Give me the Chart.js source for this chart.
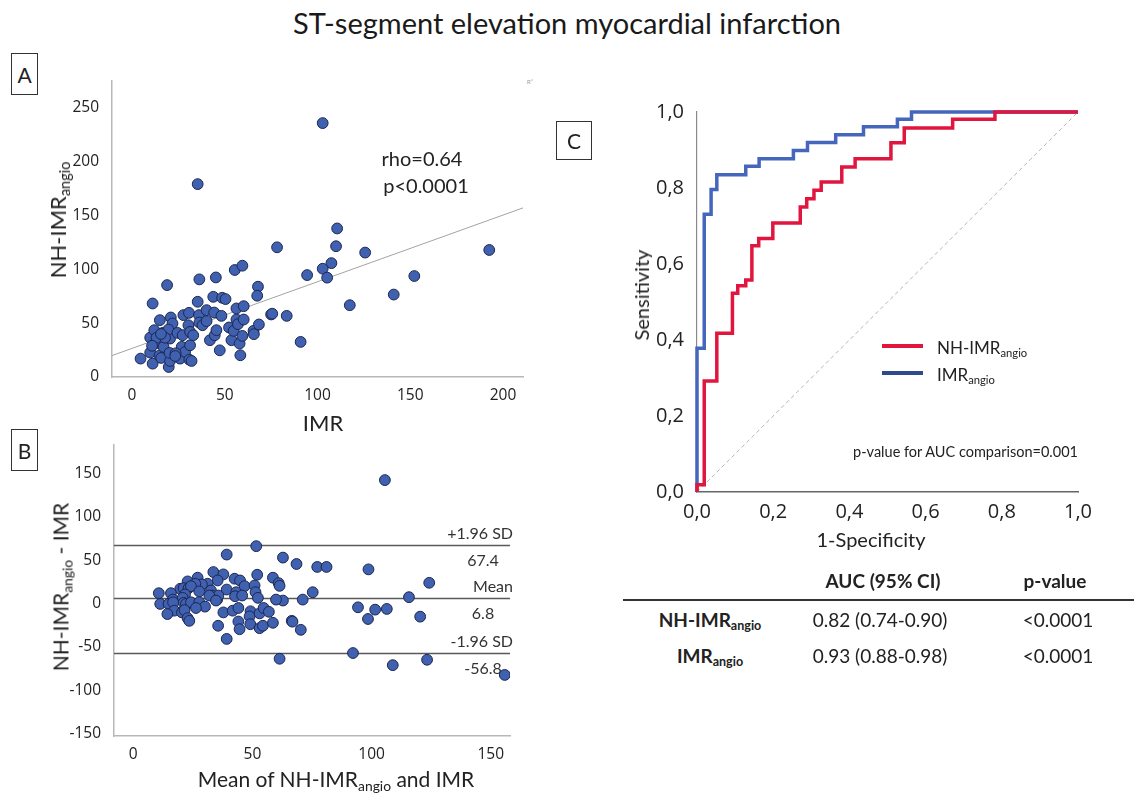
<!DOCTYPE html>
<html>
<head>
<meta charset="utf-8">
<script src="https://cdn.jsdelivr.net/npm/chart.js@4.4.1/dist/chart.umd.min.js"></script>
<style>
  body { margin: 0; background: #fff; width: 1134px; height: 794px; position: relative; overflow: hidden;
         font-family: Lato, 'Open Sans', sans-serif; color: #222; }
  canvas { position: absolute; }
  .t { position: absolute; white-space: nowrap; transform: translate(-50%, -50%); line-height: 1; }
  .rot { transform: translate(-50%, -50%) rotate(-90deg); }
  .box { position: absolute; border: 1.3px solid #333; font-size: 21px; display: flex;
         align-items: center; justify-content: center; box-sizing: border-box; }
  sub { font-size: 66%; vertical-align: -0.3em; line-height: 0; }
  .leg { position: absolute; height: 4px; width: 41px; }
  .bold { font-weight: 700; }
</style>
</head>
<body>

<div class="t" style="left:567px; top:22px; font-size:29px; color:#1a1a1a;">ST-segment elevation myocardial infarction</div>

<!-- panel A -->
<div class="box" style="left:11px; top:53px; width:27px; height:42px;">A</div>
<canvas id="chartA" width="540" height="380" style="left:0; top:60px;"></canvas>
<div class="t rot" style="left:58px; top:220px; font-size:22px;">NH-IMR<sub>angio</sub></div>
<div class="t" style="left:323px; top:423px; font-size:22px;">IMR</div>
<div class="t" style="left:422px; top:158px; font-size:20px;">rho=0.64</div>
<div class="t" style="left:426px; top:185px; font-size:20px;">p&lt;0.0001</div>
<div class="t" style="left:530px; top:82px; font-size:6px; color:#999;">R²</div>

<!-- panel B -->
<div class="box" style="left:11px; top:429px; width:27px; height:42px;">B</div>
<canvas id="chartB" width="540" height="364" style="left:0; top:430px;"></canvas>
<div class="t rot" style="left:60px; top:587px; font-size:21px;">NH-IMR<sub>angio</sub> - IMR</div>
<div class="t" style="left:336px; top:778px; font-size:21px;">Mean of NH-IMR<sub>angio</sub> and IMR</div>

<!-- panel C -->
<div class="box" style="left:556px; top:121px; width:36px; height:39px;">C</div>
<canvas id="chartC" width="500" height="480" style="left:600px; top:80px;"></canvas>
<div class="t rot" style="left:641px; top:295px; font-size:20px;">Sensitivity</div>
<div class="t" style="left:871px; top:539px; font-size:20px;">1-Specificity</div>
<div class="leg" style="left:882px; top:344px; background:#e0163f;"></div>
<div class="leg" style="left:882px; top:371px; background:#2e4a8c;"></div>
<div class="t" style="left:937px; top:347px; font-size:17px; transform:translate(0,-50%);">NH-IMR<sub>angio</sub></div>
<div class="t" style="left:937px; top:374px; font-size:17px; transform:translate(0,-50%);">IMR<sub>angio</sub></div>
<div class="t" style="left:1078px; top:452px; font-size:14.5px; transform:translate(-100%,-50%);">p-value for AUC comparison=0.001</div>

<!-- AUC table -->
<div class="t bold" style="left:883px; top:580px; font-size:19px;">AUC (95% CI)</div>
<div class="t bold" style="left:1055px; top:580px; font-size:19px;">p-value</div>
<div style="position:absolute; left:623px; top:599px; width:511px; height:2px; background:#333;"></div>
<div class="t bold" style="left:710px; top:619px; font-size:19px;">NH-IMR<sub>angio</sub></div>
<div class="t" style="left:880px; top:619px; font-size:19px;">0.82 (0.74-0.90)</div>
<div class="t" style="left:1058px; top:619px; font-size:19px;">&lt;0.0001</div>
<div class="t bold" style="left:710px; top:655px; font-size:19px;">IMR<sub>angio</sub></div>
<div class="t" style="left:880px; top:655px; font-size:19px;">0.93 (0.88-0.98)</div>
<div class="t" style="left:1058px; top:655px; font-size:19px;">&lt;0.0001</div>

<script>
/* ── Panel A: IMR vs NH-IMRangio ── */
const imrA = [
  4.6, 11.1, 11.1, 9.8, 12, 12.5, 9.8, 15, 14.8, 15.7, 17, 16.6, 18.9, 19.8, 20.5, 20.2, 20.9, 21.8, 20.5, 19.6,
  24.5, 25, 25.9, 26.8, 27.7, 27.3, 28.6, 30.7, 30.4, 31.3, 31.3, 30.9, 32.1, 33, 35.4, 35.4, 36.3, 36.1, 36.3, 38,
  40.2, 40.2, 42, 43.8, 44.3, 45.2, 44.6, 45.5, 47.3, 48.6, 50.4, 48.2, 52.3, 53.6, 55.4, 54.8, 56.3, 56.3, 57.1, 58,
  58.4, 59.5, 60.2, 60.2, 59.5, 65.5, 65.7, 67.9, 67.5, 68.4, 75, 75.6, 78.2, 83.4,
  102.8, 110.6, 110, 125.7, 192.6, 107.5, 102.8, 94.4, 105.2, 152.2, 141.1, 117.4, 90.9,
  13.2, 17.8, 15.6, 10.8, 23.5, 23.3
];
const nhImrA = [
  17.1, 68.3, 12.4, 36.6, 43.5, 31.1, 22.7, 52.8, 19.9, 17.7, 28, 41, 85.4, 9.3, 14.9, 22.4, 55.3, 49.7, 35.7, 44.1,
  41, 20.2, 17.1, 28, 57.5, 38.8, 23.3, 59.6, 48.1, 41.9, 29.5, 16.1, 14.9, 38.8, 69.9, 179.2, 90.7, 57.5, 50.6, 48.1,
  62.1, 51.9, 34.2, 74.5, 59.9, 92.5, 38.8, 43.5, 24.8, 73.6, 72.4, 56.8, 46, 34.2, 99.4, 42.9, 63.7, 53.4, 49.1, 31.1,
  20.2, 103.4, 65.8, 53.4, 38.2, 42.9, 39.8, 83.9, 75.5, 48.8, 58.1, 58.8, 120.5, 56.8,
  235.9, 138, 121.5, 115.6, 118, 105.8, 100.6, 94.7, 92.3, 93.8, 76.6, 66.7, 32.6,
  36.5, 36.5, 40, 29, 22, 19.5
];
const fitLineX = [-10.8, 210.8];
const fitLineY = [19.9, 157.1];
const xTicksA = [0, 50, 100, 150, 200];
const yTicksA = [0, 50, 100, 150, 200, 250];

/* ── Panel B: Bland-Altman ── */
const meanB = [
  51.6, 39.2, 62.8, 68.5, 77.2, 81.1, 98.7, 124.2, 115.7, 75.3, 33.6, 37.8, 27, 22.8, 42.5, 44.8, 52, 58.6, 61, 61.4,
  46.7, 50.9, 35.4, 31.2, 28.8, 26, 19.7, 21.1, 23.2, 24.2, 27.7, 15.8, 10.7, 16.6, 21.7, 32.6, 33, 39.2, 43.2, 42.7,
  45.7, 51.3, 52.3, 35.2, 35.7, 31.9, 20.7, 21.1, 11.3, 14.8, 16.7, 22.1, 24.2, 27.7, 30.1, 34.7, 17.2, 14.3, 20.4, 21.5,
  22.8, 23.5, 26.3, 37.8, 41.7, 44.1, 49.2, 48.8, 53, 54.7, 56.9, 44.1, 44.6, 49.1, 53, 54.4, 58.6, 35.6, 39.2, 66.5,
  66.8, 70.3, 62.8, 59.9, 71.1, 94.3, 101.5, 106.4, 98.5, 120.4, 61.4, 92.2, 108.9, 123.3, 155.9, 105.6
];
const diffB = [
  66.2, 56.5, 53, 45.6, 42.2, 42.2, 39.4, 23.9, 7.3, 13, 36.3, 33.6, 29.8, 25.5, 28.6, 26.6, 33.2, 29.8, 23.5, 20.4,
  20, 20.8, 26.6, 22.8, 22, 22.8, 17, 17.7, 17.7, 20, 13.9, 11.9, 11.9, 4.5, 10.4, 15, 9.2, 16.1, 13, 8.4,
  9.2, 13, 6.5, 4.5, 9.2, 9.2, 6.5, 0.7, -0.5, -0.5, 1.4, -0.5, 1.4, 1.4, -3.6, 3.4, -8.3, -12.2, -10.3, -7.6,
  -16.9, -20, -5.2, -10.3, -8.3, -5.2, -9, -14.9, -11.4, -5.2, -9.6, -20.8, -29.7, -23.9, -28.5, -25.7, -22.3, -25.7, -40.9, -20,
  -21, -30.4, 3.4, 4.5, 4.5, -4.4, -7.1, -6.3, -17.9, -15.2, -63.8, -57.2, -71.2, -65, -82.5, 142.5
];
const limitValues = [67.4, 6.8, -56.8];
const limitNames = ['+1.96 SD', 'Mean', '-1.96 SD'];
const xTicksB = [0, 50, 100, 150];
const yTicksB = [-150, -100, -50, 0, 50, 100, 150];

/* ── Panel C: ROC curves ── */
const fprNH  = [0, 0, 0.019, 0.052, 0.093, 0.107, 0.128, 0.144, 0.162, 0.199, 0.271, 0.288, 0.307, 0.326, 0.38, 0.415, 0.509, 0.544, 0.671, 0.782, 1.0];
const tprNH  = [0, 0.019, 0.292, 0.418, 0.523, 0.543, 0.558, 0.648, 0.667, 0.708, 0.75, 0.772, 0.794, 0.816, 0.855, 0.877, 0.919, 0.958, 0.981, 1.0, 1.0];
const fprIMR = [0, 0, 0.019, 0.037, 0.052, 0.128, 0.163, 0.253, 0.29, 0.364, 0.437, 0.526, 0.563, 1.0];
const tprIMR = [0, 0.378, 0.731, 0.796, 0.835, 0.857, 0.877, 0.899, 0.92, 0.94, 0.961, 0.981, 1.0, 1.0];
const refLine = [0, 1];
const rocTicks = [0, 0.2, 0.4, 0.6, 0.8, 1.0];

Chart.defaults.font.family = "'Open Sans', sans-serif";
Chart.defaults.color = '#222';

const pts = (xs, ys) => xs.map((x, i) => ({ x, y: ys[i] }));
const fixTicks = list => s => { s.ticks = list.map(v => ({ value: v })); };
const noPlugins = { legend: { display: false }, tooltip: { enabled: false } };
const DOT = { backgroundColor: '#4060b0', borderColor: '#1c2750', borderWidth: 1, pointRadius: 5.4 };

new Chart(document.getElementById('chartA'), {
  type: 'scatter',
  data: {
    datasets: [
      { data: pts(imrA, nhImrA), ...DOT },
      { data: pts(fitLineX, fitLineY), showLine: true, pointRadius: 0, borderColor: '#a3a3a3', borderWidth: 1 }
    ]
  },
  options: {
    responsive: false, animation: false,
    layout: { padding: { left: 0, right: 17, top: 21, bottom: 0 } },
    plugins: noPlugins,
    scales: {
      x: {
        type: 'linear', min: -10.8, max: 210.8,
        afterBuildTicks: fixTicks(xTicksA), afterFit: s => { s.height = 63; },
        grid: { display: false }, border: { color: '#b8b8b8', width: 1.5 },
        ticks: { padding: 1, font: { size: 15.5 } }
      },
      y: {
        min: 0, max: 275,
        afterBuildTicks: fixTicks(yTicksA), afterFit: s => { s.width = 112; },
        grid: { display: false }, border: { color: '#b8b8b8', width: 1.5 },
        ticks: { padding: 5, font: { size: 15.5 } }
      }
    }
  }
});

/* limit lines + their labels for the Bland-Altman plot */
const limitsPlugin = {
  id: 'limits',
  beforeDatasetsDraw(chart) {
    const { ctx, chartArea, scales: { y } } = chart;
    ctx.save();
    ctx.strokeStyle = '#5a5a5a';
    ctx.lineWidth = 1.5;
    ctx.fillStyle = '#333';
    ctx.font = "16px Lato, 'Open Sans', sans-serif";
    ctx.textBaseline = 'middle';
    limitValues.forEach((v, i) => {
      const py = Math.round(y.getPixelForValue(v)) + 0.5;
      ctx.beginPath();
      ctx.moveTo(chartArea.left, py);
      ctx.lineTo(chartArea.right, py);
      ctx.stroke();
      ctx.textAlign = 'right';
      ctx.fillText(limitNames[i], chartArea.right + 3, py - 12);
      ctx.textAlign = 'center';
      ctx.fillText(v.toFixed(1), chartArea.right - 27, py + 15);
    });
    ctx.restore();
  }
};

new Chart(document.getElementById('chartB'), {
  type: 'scatter',
  data: { datasets: [{ data: pts(meanB, diffB), ...DOT }] },
  options: {
    responsive: false, animation: false,
    layout: { padding: { left: 0, right: 30, top: 15, bottom: 0 } },
    plugins: noPlugins,
    scales: {
      x: {
        type: 'linear', min: -8.1, max: 158.1,
        afterBuildTicks: fixTicks(xTicksB), afterFit: s => { s.height = 58; },
        grid: { display: false }, border: { color: '#b8b8b8', width: 1.5 },
        ticks: { padding: 1, font: { size: 15.5 } }
      },
      y: {
        min: -153, max: 183,
        afterBuildTicks: fixTicks(yTicksB), afterFit: s => { s.width = 114; },
        grid: { display: false }, border: { color: '#b8b8b8', width: 1.5 },
        ticks: { padding: 5, font: { size: 15.5 } }
      }
    }
  },
  plugins: [limitsPlugin]
});

const comma = v => v.toFixed(1).replace('.', ',');

new Chart(document.getElementById('chartC'), {
  type: 'scatter',
  data: {
    datasets: [
      { data: pts(fprNH, tprNH), showLine: true, stepped: 'before', pointRadius: 0,
        borderColor: '#e0163f', borderWidth: 3.5, clip: 4 },
      { data: pts(fprIMR, tprIMR), showLine: true, stepped: 'before', pointRadius: 0,
        borderColor: '#4566bd', borderWidth: 3.5, clip: 4 },
      { data: pts(refLine, refLine), showLine: true, pointRadius: 0,
        borderColor: '#b5b5b5', borderWidth: 1, borderDash: [4, 3] }
    ]
  },
  options: {
    responsive: false, animation: false,
    layout: { padding: { left: 0, right: 22, top: 32, bottom: 0 } },
    plugins: noPlugins,
    scales: {
      x: {
        type: 'linear', min: 0, max: 1,
        afterBuildTicks: fixTicks(rocTicks), afterFit: s => { s.height = 68; },
        grid: { display: false }, border: { color: '#666', width: 1.5 },
        ticks: { padding: 0, font: { size: 20 }, callback: comma }
      },
      y: {
        min: 0, max: 1,
        afterBuildTicks: fixTicks(rocTicks), afterFit: s => { s.width = 97; },
        grid: { display: false }, border: { color: '#8a8a8a', width: 1.2 },
        ticks: { padding: 5, font: { size: 20 }, callback: comma }
      }
    }
  }
});
</script>
</body>
</html>
